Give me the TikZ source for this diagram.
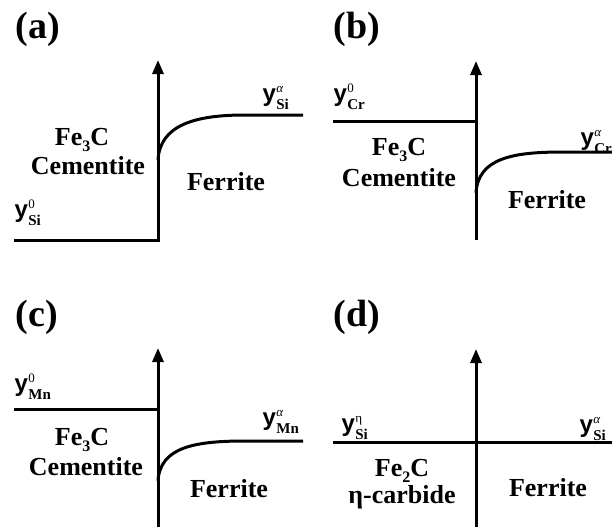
\documentclass[tikz,border=0pt]{standalone}
\usepackage{fontspec}
\setmainfont{Liberation Serif}
\newfontfamily\ysans{Liberation Sans}
\usetikzlibrary{arrows.meta}
\newcommand{\yvar}[2]{{\ysans\bfseries\fontsize{24}{24}\selectfont y}\kern0.5pt\rlap{\raisebox{9pt}{\fontsize{13}{13}\selectfont #1}}\raisebox{-8.5pt}{\fontsize{15}{15}\selectfont\bfseries #2}}
\newcommand{\lowsub}[1]{\raisebox{-6pt}{\fontsize{16}{16}\selectfont #1}}
\begin{document}
\begin{tikzpicture}[x=1pt,y=-1pt,line width=3pt,
  panel/.style={font=\fontsize{38}{38}\selectfont\bfseries,anchor=base west,inner sep=0pt},
  phase/.style={font=\fontsize{26}{26}\selectfont\bfseries,anchor=base,inner sep=0pt},
  yv/.style={anchor=base west,inner sep=0pt},
  ax/.style={-{Triangle[length=14pt,width=11pt]}}]
\clip (0,0) rectangle (612,527);
\fill[white] (0,0) rectangle (612,527);
% (a)
\node[panel] (la) at (14,38) {(a)};
\draw[ax] (14,240) -- (158,240) -- (158,60);
\draw (158,160) .. controls (160,125) and (195,115) .. (245,115) -- (303,115);
\node[phase] (fa) at (82,145) {Fe\lowsub{3}C};
\node[phase] (ca) at (88,174) {Cementite};
\node[phase] (ra) at (226,190) {Ferrite};
\node[yv] (y0a) at (13,217) {\yvar{0}{Si}};
\node[yv] (y1a) at (261,101) {\yvar{\itshape α}{Si}};
% (b)
\node[panel] (lb) at (332,38) {(b)};
\draw[ax] (476,240) -- (476,61);
\draw (333,121) -- (476,121);
\draw (476,193) .. controls (478,158) and (513,152) .. (563,152) -- (612,152);
\node[phase] (fb) at (399,155) {Fe\lowsub{3}C};
\node[phase] (cb) at (399,186) {Cementite};
\node[phase] (rb) at (547,208) {Ferrite};
\node[yv] (y0b) at (332,101) {\yvar{0}{Cr}};
\node[yv] (y1b) at (579,145) {\yvar{\itshape α}{Cr}};
% (c)
\node[panel] (lc) at (14,326) {(c)};
\draw[ax] (158,527) -- (158,348);
\draw (14,409) -- (158,409);
\draw (158,481) .. controls (160,447) and (195,441) .. (245,441) -- (303,441);
\node[phase] (fc) at (82,445) {Fe\lowsub{3}C};
\node[phase] (cc) at (86,475) {Cementite};
\node[phase] (rc) at (229,497) {Ferrite};
\node[yv] (y0c) at (13,391) {\yvar{0}{Mn}};
\node[yv] (y1c) at (261,425) {\yvar{\itshape α}{Mn}};
% (d)
\node[panel] (ld) at (332,326) {(d)};
\draw[ax] (476,527) -- (476,349);
\draw (333,442) -- (612,442);
\node[phase] (fd) at (402,476) {Fe\lowsub{2}C};
\node[phase] (cd) at (402,503) {η-carbide};
\node[phase] (rd) at (548,496) {Ferrite};
\node[yv] (y0d) at (340,431) {\yvar{η}{Si}};
\node[yv] (y1d) at (578,432) {\yvar{\itshape α}{Si}};
\end{tikzpicture}
\end{document}
